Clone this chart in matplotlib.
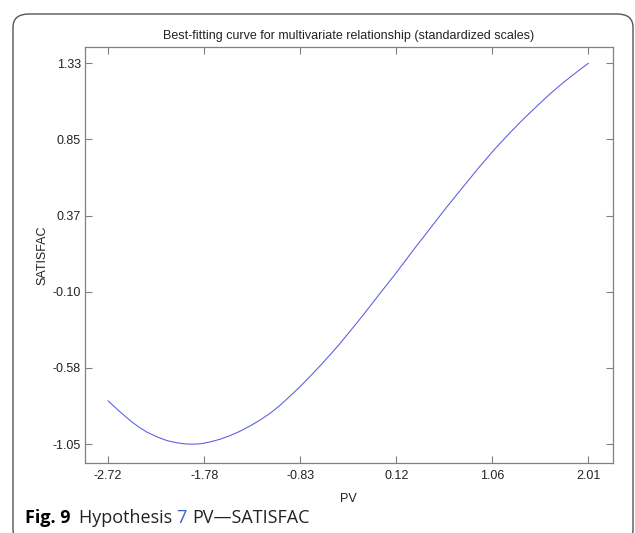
import numpy as np
import matplotlib
matplotlib.use("Agg")
import matplotlib.pyplot as plt
from matplotlib.patches import FancyBboxPatch

# curve points (PV, SATISFAC)
pv = [-2.72, -2.61, -2.50, -2.42, -2.34, -2.24, -2.14, -2.04, -1.95, -1.88, -1.81,
      -1.72, -1.62, -1.52, -1.42, -1.32, -1.22, -1.12, -1.03, -0.93, -0.83,
      -0.73, -0.63, -0.53, -0.44, -0.32, -0.21, -0.05, 0.12, 0.28, 0.45,
      0.61, 0.78, 0.93, 1.09, 1.24, 1.34, 1.44, 1.54, 1.63, 1.73, 1.83,
      1.92, 2.01]
satisfac = [-0.780, -0.845, -0.905, -0.943, -0.975, -1.005, -1.029, -1.043, -1.050, -1.051, -1.049,
            -1.038, -1.021, -0.998, -0.970, -0.937, -0.899, -0.856, -0.810, -0.752, -0.692,
            -0.627, -0.560, -0.490, -0.425, -0.332, -0.246, -0.115, 0.022, 0.157, 0.296,
            0.427, 0.560, 0.677, 0.795, 0.897, 0.962, 1.024, 1.084, 1.137, 1.192, 1.243,
            1.287, 1.330]

xtick_labels = ["-2.72", "-1.78", "-0.83", "0.12", "1.06", "2.01"]
ytick_labels = ["-1.05", "-0.58", "-0.10", "0.37", "0.85", "1.33"]

plt.rcParams['font.family'] = ['Liberation Sans', 'DejaVu Sans']

fig = plt.figure(figsize=(6.35, 5.33), dpi=100)
ax = fig.add_axes([0.1339, 0.1319, 0.8307, 0.7794])

ax.plot(pv, satisfac, color='#5a5ae0', lw=0.75)

xt = np.linspace(min(pv), max(pv), len(xtick_labels))
yt = np.linspace(min(satisfac), max(satisfac), len(ytick_labels))
ax.set_xticks(xt)
ax.set_xticklabels(xtick_labels)
ax.set_yticks(yt)
ax.set_yticklabels(ytick_labels)
ax.set_xlim(-2.947, 2.248)
ax.set_ylim(-1.167, 1.43)

ax.tick_params(direction='in', length=5, width=0.8, color='#808080',
               labelsize=9, labelcolor='#222222', top=True, right=True)
ax.tick_params(axis='x', pad=5)
ax.tick_params(axis='y', pad=3)
for s in ax.spines.values():
    s.set_color('#808080')
    s.set_linewidth(0.9)

ax.set_title("Best-fitting curve for multivariate relationship (standardized scales)",
             fontsize=9, color='#222222', pad=6)
ax.set_xlabel("PV", fontsize=9, color='#222222', labelpad=8)
ax.set_ylabel("SATISFAC", fontsize=9, color='#222222', labelpad=3)

# outer rounded border
border = FancyBboxPatch((13 / 635, -10 / 533), 620 / 635, 529 / 533,
                        boxstyle="round,pad=0,rounding_size=0.025",
                        transform=fig.transFigure, fill=False,
                        edgecolor='#555555', lw=1.0, clip_on=False)
fig.patches.append(border)

# caption, built piece by piece
fig.canvas.draw()
r = fig.canvas.get_renderer()
x0 = 25 / 635
yc = 1 - 518 / 533
pieces = [("Fig. 9", 'bold', 'black', 0.013),
          ("Hypothesis ", 'normal', '#222222', 0.0),
          ("7", 'normal', '#3a5fcd', 0.008),
          ("PV\u2014SATISFAC", 'normal', '#222222', 0.0)]
for txt, wt, col, gap in pieces:
    t = fig.text(x0, yc, txt, fontsize=13, fontweight=wt, color=col,
                 family=['Open Sans', 'DejaVu Sans'], va='center', ha='left')
    bb = t.get_window_extent(renderer=r)
    x0 = bb.x1 / fig.bbox.width + gap

fig.savefig("out.png", dpi=100)
